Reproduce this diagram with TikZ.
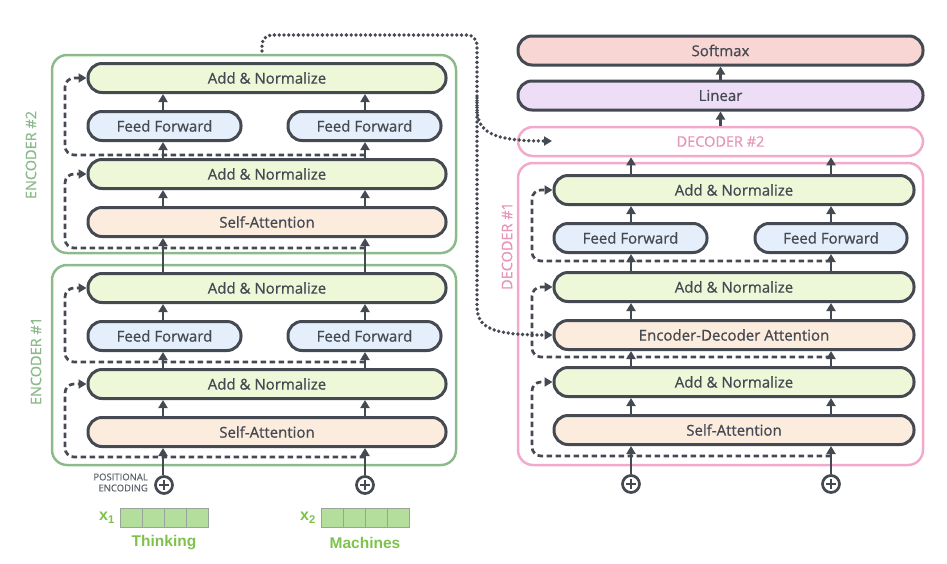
\documentclass[tikz,border=0pt]{standalone}
\usepackage{fontspec}
\setmainfont{Open Sans}
\newfontfamily\boxfont{Open Sans}[FakeBold=0.8]
\newfontfamily\arialfont{Liberation Sans}
\usetikzlibrary{arrows.meta}
\definecolor{ink}{HTML}{454A52}
\definecolor{anfill}{HTML}{EEF8D9}
\definecolor{fffill}{HTML}{E4EFFB}
\definecolor{safill}{HTML}{FCECDD}
\definecolor{smfill}{HTML}{F7D6D3}
\definecolor{linfill}{HTML}{EDDDF6}
\definecolor{encgreen}{HTML}{8DBA8C}
\definecolor{decpink}{HTML}{F2A9CB}
\definecolor{declabel}{HTML}{E597BA}
\definecolor{embfill}{HTML}{B3DE9B}
\definecolor{embline}{HTML}{9AA39A}
\definecolor{wordgreen}{HTML}{7DC24B}
\definecolor{posgray}{HTML}{5F646B}
\begin{document}
\begin{tikzpicture}[x=1pt,y=-1pt,
  blk/.style={draw=ink, line width=3pt, rounded corners=14pt, minimum height=29pt,
    inner sep=0pt, text=ink, font=\boxfont\fontsize{15}{16}\selectfont},
  an/.style={blk, fill=anfill, minimum width=358pt},
  dan/.style={an, minimum width=360pt},
  ffb/.style={blk, fill=fffill, minimum width=153pt},
  sab/.style={blk, fill=safill, minimum width=358pt},
  dsab/.style={sab, minimum width=360pt},
  topb/.style={blk, minimum width=405pt},
  encbox/.style={draw=encgreen, line width=2.5pt, rounded corners=15pt, inner sep=0pt, minimum width=404pt},
  decbox/.style={draw=decpink, line width=2.5pt, rounded corners=15pt, inner sep=0pt, minimum width=405pt},
  vlabel/.style={rotate=90, font=\boxfont\fontsize{14.5}{16}\selectfont},
  arr/.style={draw=ink, line width=2.7pt, -{Triangle[length=8pt,width=9pt]}},
  resid/.style={draw=ink, line width=2.7pt, dash pattern=on 5.5pt off 3.5pt, rounded corners=9pt,
    -{Triangle[length=8pt,width=9pt]}},
  dots/.style={draw=ink, line width=3.8pt, line cap=round, dash pattern=on 0pt off 4.8pt,
    rounded corners=10pt, -{Triangle[length=8pt,width=9pt]}},
  plusc/.style={circle, draw=ink, line width=2.7pt, minimum size=17pt, inner sep=0pt,
    path picture={\draw[ink, line width=2.7pt]
      (path picture bounding box.center) ++(-5pt,0pt) -- ++(10pt,0pt)
      (path picture bounding box.center) ++(0pt,-5pt) -- ++(0pt,10pt);}},
  word/.style={text=wordgreen, font=\arialfont\bfseries\fontsize{15.5}{17}\selectfont},
  emb/.style={fill=embfill, draw=embline, line width=1pt}
]
\useasboundingbox (0,0) rectangle (947,563);

% column coordinates
\coordinate (cL) at (163,0);
\coordinate (cR) at (365,0);
\coordinate (dL) at (631,0);
\coordinate (dR) at (831,0);

% containers
\node[encbox, minimum height=198pt] (enc2) at (254,154) {};
\node[encbox, minimum height=200pt] (enc1) at (254,365) {};
\node[decbox, minimum height=302pt] (dec1) at (720.5,314) {};
\node[decbox, minimum height=29pt, text=declabel, font=\boxfont\fontsize{14.5}{16}\selectfont] (dec2) at (720.5,141.5) {DECODER \#2};

\node[vlabel, text=encgreen] (lenc2) at (31,155) {ENCODER \#2};
\node[vlabel, text=encgreen] (lenc1) at (36,361) {ENCODER \#1};
\node[vlabel, text=declabel] (ldec1) at (507,246) {DECODER \#1};

% encoder 2 blocks
\node[an]  (e2an2) at (267,78)  {Add \& Normalize};
\node[ffb] (e2ffL) at (164.5,126) {Feed Forward};
\node[ffb] (e2ffR) at (364.5,126) {Feed Forward};
\node[an]  (e2an1) at (267,174) {Add \& Normalize};
\node[sab] (e2sa)  at (267,222) {Self-Attention};

% encoder 1 blocks
\node[an]  (e1an2) at (267,288) {Add \& Normalize};
\node[ffb] (e1ffL) at (164.5,336) {Feed Forward};
\node[ffb] (e1ffR) at (364.5,336) {Feed Forward};
\node[an]  (e1an1) at (267,384) {Add \& Normalize};
\node[sab] (e1sa)  at (267,432) {Self-Attention};

% decoder blocks
\node[topb, fill=smfill] (soft) at (720.5,50.5) {Softmax};
\node[topb, fill=linfill] (lin) at (720.5,95.5) {Linear};
\node[dan] (dan3) at (734,190) {Add \& Normalize};
\node[ffb] (dffL) at (630.5,238) {Feed Forward};
\node[ffb, minimum width=152pt] (dffR) at (831,238) {Feed Forward};
\node[dan] (dan2) at (734,287) {Add \& Normalize};
\node[dsab] (deda) at (734,335) {Encoder-Decoder Attention};
\node[dan] (dan1) at (734,382) {Add \& Normalize};
\node[dsab] (dsa) at (734,430) {Self-Attention};

% positional encoding circles
\node[plusc] (p1) at (164,485) {};
\node[plusc] (p2) at (365,485) {};
\node[plusc] (p3) at (631,484) {};
\node[plusc] (p4) at (831,484) {};
\node[anchor=east, align=right, text=posgray, font=\boxfont\fontsize{9.5}{11}\selectfont, inner sep=0pt]
  (pos) at (148,482.5) {POSITIONAL\\ENCODING};

% embeddings
\draw[emb] (120,508) rectangle (208,527);
\foreach \x in {142,164,186} \draw[embline, line width=1pt] (\x,508) -- (\x,527);
\draw[emb] (321,508) rectangle (409,527);
\foreach \x in {343,365,387} \draw[embline, line width=1pt] (\x,508) -- (\x,527);
\node[word, font=\arialfont\bfseries\fontsize{16}{17}\selectfont] (x1) at (107,518) {x\textsubscript{1}};
\node[word, font=\arialfont\bfseries\fontsize{16}{17}\selectfont] (x2) at (308,518) {x\textsubscript{2}};
\node[word] (w1) at (164,543) {Thinking};
\node[word] (w2) at (365,543) {Machines};

% encoder solid arrows
\foreach \c in {cL,cR}{
  \draw[arr] (p1.north -| \c) -- (e1sa.south -| \c);
  \draw[arr] (e1sa.north -| \c) -- (e1an1.south -| \c);
  \draw[arr] (e1an2.north -| \c) -- (e2sa.south -| \c);
  \draw[arr] (e2sa.north -| \c) -- (e2an1.south -| \c);
}
\draw[arr] (e1an1.north -| cL) -- (e1ffL.south -| cL);
\draw[arr] (e1an1.north -| cR) -- (e1ffR.south -| cR);
\draw[arr] (e1ffL.north -| cL) -- (e1an2.south -| cL);
\draw[arr] (e1ffR.north -| cR) -- (e1an2.south -| cR);
\draw[arr] (e2an1.north -| cL) -- (e2ffL.south -| cL);
\draw[arr] (e2an1.north -| cR) -- (e2ffR.south -| cR);
\draw[arr] (e2ffL.north -| cL) -- (e2an2.south -| cL);
\draw[arr] (e2ffR.north -| cR) -- (e2an2.south -| cR);

% decoder solid arrows
\draw[arr] (p3.north) -- (dsa.south -| dL);
\draw[arr] (p4.north) -- (dsa.south -| dR);
\foreach \c in {dL,dR}{
  \draw[arr] (dsa.north -| \c) -- (dan1.south -| \c);
  \draw[arr] (dan1.north -| \c) -- (deda.south -| \c);
  \draw[arr] (deda.north -| \c) -- (dan2.south -| \c);
  \draw[arr] (dan3.north -| \c) -- (dec2.south -| \c);
}
\draw[arr] (dan2.north -| dL) -- (dffL.south -| dL);
\draw[arr] (dan2.north -| dR) -- (dffR.south -| dR);
\draw[arr] (dffL.north -| dL) -- (dan3.south -| dL);
\draw[arr] (dffR.north -| dR) -- (dan3.south -| dR);
\draw[arr] (dec2.north) -- (lin.south);
\draw[arr] (lin.north) -- (soft.south);

% residual dashed connectors
\coordinate (r1) at (365,457);
\coordinate (r2) at (365,362);
\coordinate (r3) at (365,248);
\coordinate (r4) at (365,155);
\draw[resid] (r1) -| (65,384) -- (e1an1.west);
\draw[resid] (r2) -| (65,288) -- (e1an2.west);
\draw[resid] (r3) -| (65,174) -- (e2an1.west);
\draw[resid] (r4) -| (65,78) -- (e2an2.west);
\coordinate (s1) at (831,456);
\coordinate (s2) at (831,357);
\coordinate (s3) at (831,261);
\draw[resid] (s1) -| (532,382) -- (dan1.west);
\draw[resid] (s2) -| (532,287) -- (dan2.west);
\draw[resid] (s3) -| (532,190) -- (dan3.west);

% dotted encoder-to-decoder connectors
\coordinate (d0) at (262,51);
\coordinate (d2in) at (552,141);
\draw[dots] (d0) |- (477,35) -- (477,98) .. controls (477,132) and (492,141) .. (d2in);
\draw[dots] (477,98) -- (477,296) .. controls (477,328) and (492,335) .. (deda.west);
\end{tikzpicture}
\end{document}
